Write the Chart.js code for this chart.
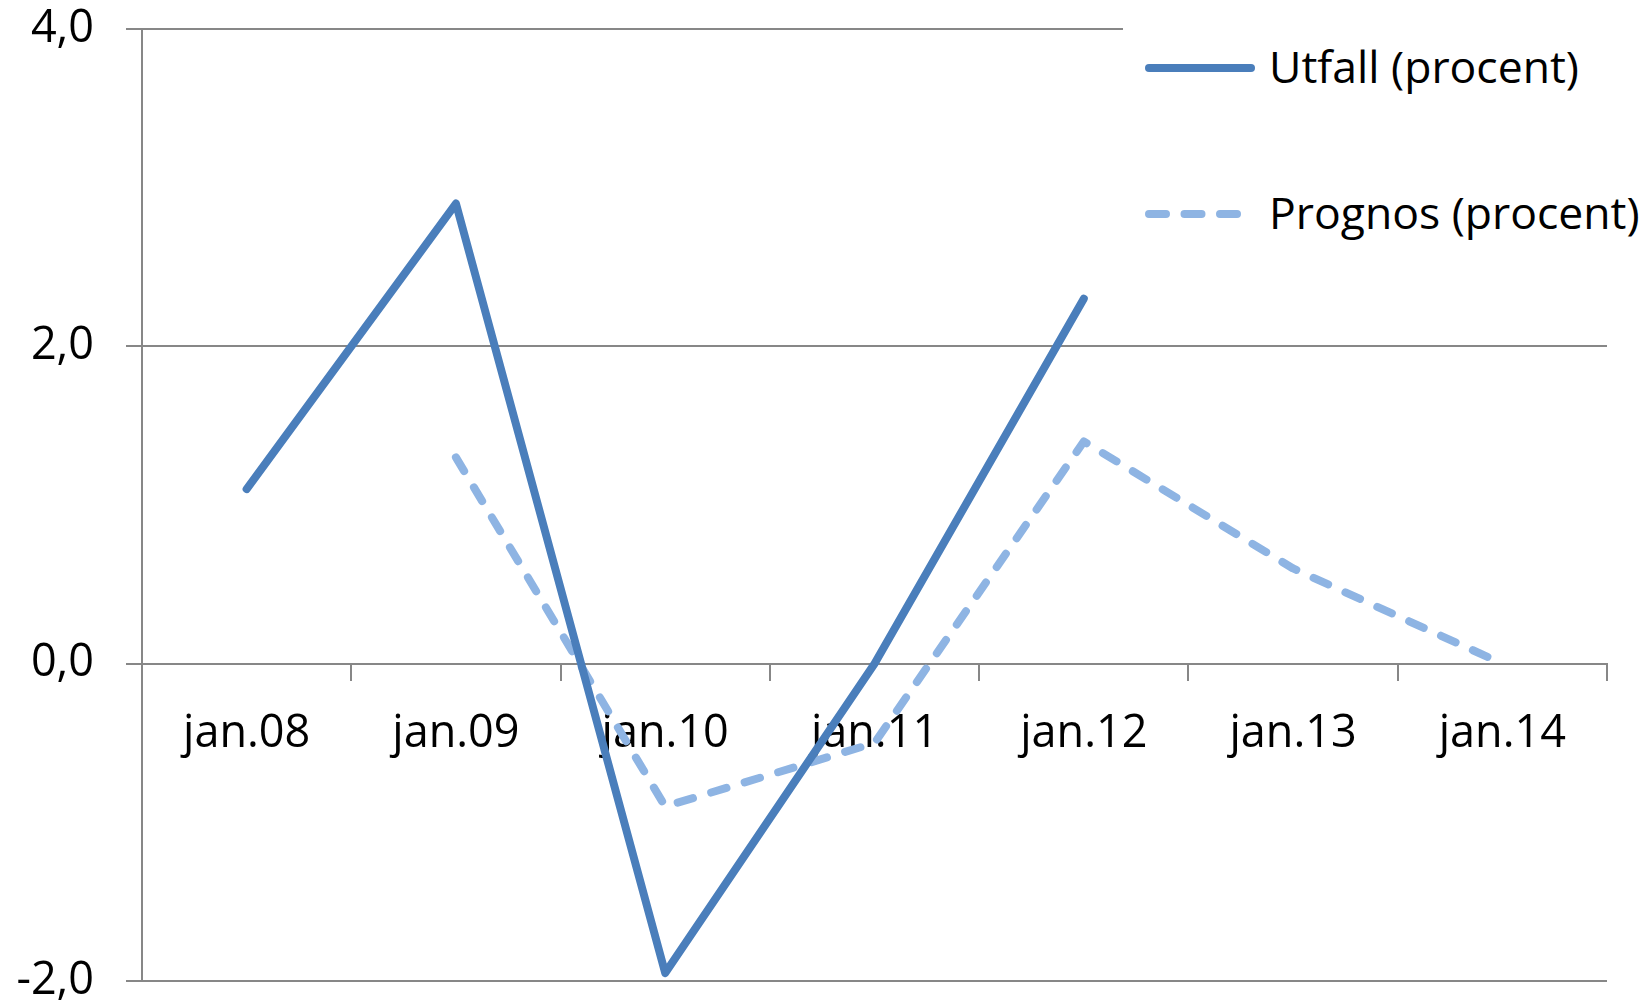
<!DOCTYPE html>
<html>
<head>
<meta charset="utf-8">
<script src="https://cdn.jsdelivr.net/npm/chart.js"></script>
<style>
  html, body { margin: 0; padding: 0; background: #fff; }
  #wrap { position: relative; width: 1650px; height: 1006px; }
  #legend { position: absolute; left: 1123px; top: 0; width: 527px; height: 250px; background: #fff;
            font-family: "Open Sans"; font-size: 44.5px; color: #000; }
  .item { position: absolute; left: 22px; height: 60px; display: flex; align-items: center; white-space: nowrap; }
  .item svg { margin-right: 14px; }
  .item span { position: relative; top: -3px; }
</style>
</head>
<body>
<div id="wrap">
  <canvas id="growth" width="1650" height="1006"></canvas>
  <div id="legend"></div>
</div>
<script>
var years = ["jan.08", "jan.09", "jan.10", "jan.11", "jan.12", "jan.13", "jan.14"];
var utfall = [1.1, 2.9, -1.95, 0.0, 2.3, null, null];
var prognos = [null, 1.3, -0.9, -0.5, 1.4, 0.6, 0.0];
var yTicks = [-2, 0, 2, 4];

var axisGrey = "#878787";
var tickFont = { family: "Open Sans", size: 45, lineHeight: 1 };

var chart = new Chart("growth", {
  type: "line",
  data: {
    labels: years,
    datasets: [{
      label: "Utfall (procent)",
      data: utfall,
      borderColor: "#4a7ebb",
      borderWidth: 8,
      borderCapStyle: "round",
      borderJoinStyle: "round",
      pointRadius: 0,
      fill: false
    }, {
      label: "Prognos (procent)",
      data: prognos,
      borderColor: "#8eb4e3",
      borderWidth: 8,
      borderDash: [16, 19],
      borderCapStyle: "round",
      borderJoinStyle: "round",
      pointRadius: 0,
      fill: false
    }]
  },
  options: {
    responsive: false,
    animation: false,
    layout: { padding: { top: 29, right: 43, bottom: 25, left: 0 } },
    plugins: { legend: { display: false }, tooltip: { enabled: false } },
    scales: {
      x: {
        position: { y: 0 },
        offset: true,
        grid: { offset: true, drawOnChartArea: false, tickLength: 16, color: axisGrey, lineWidth: 2 },
        border: { color: axisGrey, width: 2 },
        ticks: { font: tickFont, color: "#000", padding: 32, maxRotation: 0 },
        afterFit: function (scale) { scale.height = 0; }
      },
      y: {
        min: -2,
        max: 4,
        afterBuildTicks: function (scale) { scale.ticks = yTicks.map(function (v) { return { value: v }; }); },
        grid: { color: axisGrey, lineWidth: 2, tickLength: 16 },
        border: { color: axisGrey, width: 2 },
        ticks: {
          font: tickFont, color: "#000", padding: 32,
          callback: function (v) { return v.toFixed(1).replace(".", ","); }
        },
        afterFit: function (scale) {
          scale.width = 142;
          scale.paddingTop = 0;
          scale.paddingBottom = 0;
        }
      }
    }
  }
});

// legend sits on top of the plot, like the original
var legendTops = [38, 184];
var legend = document.getElementById("legend");
chart.data.datasets.forEach(function (ds, i) {
  var dash = ds.borderDash ? ' stroke-dasharray="17 18.5"' : "";
  var item = document.createElement("div");
  item.className = "item";
  item.style.top = legendTops[i] + "px";
  item.innerHTML = '<svg width="110" height="12"><line x1="4" y1="6" x2="106" y2="6" stroke="' + ds.borderColor +
    '" stroke-width="8" stroke-linecap="round"' + dash + '/></svg><span>' + ds.label + '</span>';
  legend.appendChild(item);
});
</script>
</body>
</html>
